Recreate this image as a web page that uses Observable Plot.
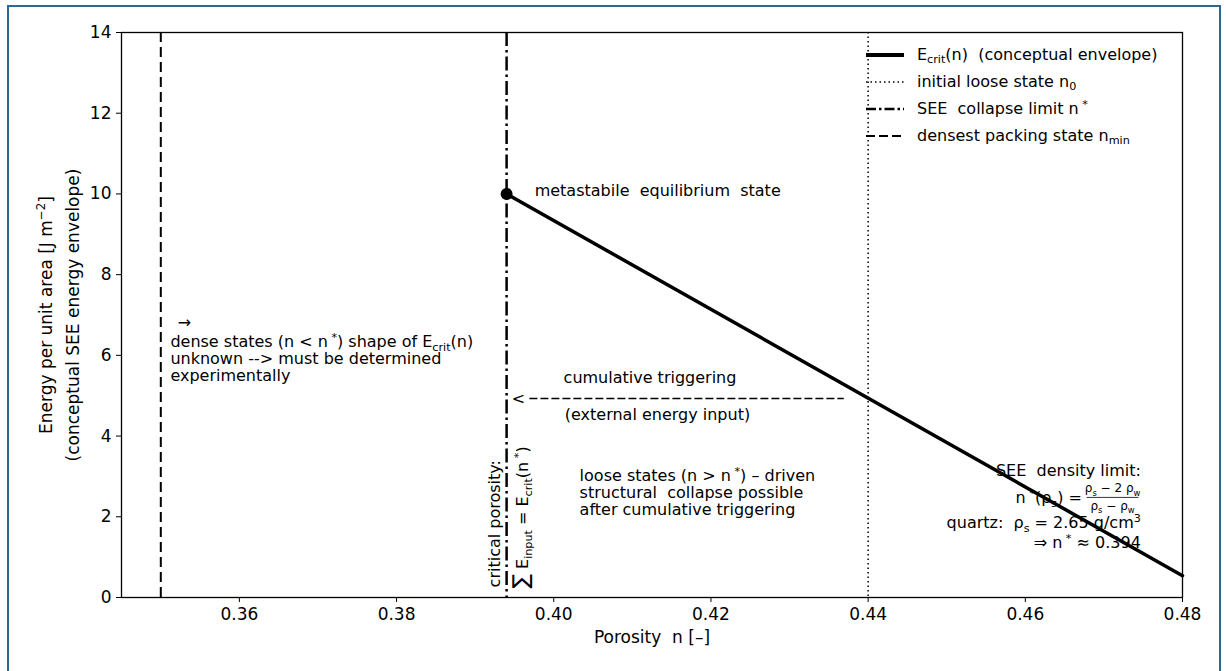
<!DOCTYPE html>
<html><head><meta charset="utf-8">
<script src="https://cdn.jsdelivr.net/npm/d3@7"></script>
<script src="https://cdn.jsdelivr.net/npm/@observablehq/plot@0.6"></script>
<style>
body{margin:0;background:#fff;font-family:"DejaVu Sans",sans-serif;}
#wrap{position:relative;width:1226px;height:671px;overflow:hidden;background:#fff;}
#border{position:absolute;left:7px;top:5px;width:1210px;height:720px;border:2px solid #2b6a8e;pointer-events:none;}
#legend{position:absolute;left:866px;top:41px;font-size:16px;color:#000;}
#legend .row{display:flex;align-items:center;height:27px;}
#legend svg{width:38px;height:10px;margin-right:13px;overflow:visible}
#legend sub{font-size:70%;vertical-align:-0.3em;line-height:0}
#legend sup{font-size:70%;vertical-align:0.5em;line-height:0}
</style></head><body>
<div id="wrap"><div id="chart"></div><div id="legend"></div><div id="border"></div></div>
<script>
// ---- data ----
const xDomain = [0.345, 0.48];
const yDomain = [0, 14];
const xTicks = [0.36, 0.38, 0.40, 0.42, 0.44, 0.46, 0.48];
const yTicks = [0, 2, 4, 6, 8, 10, 12, 14];
const envelopeN = [0.394, 0.48];
const envelopeE = [10, 0.54];
const nInitial = 0.44;
const nCritical = 0.394;
const nMin = 0.35;
const metastableE = 10;
const triggerArrowN = [0.3969, 0.4369];
const triggerArrowE = 4.93;

const legendItems = [
  {label: "E<sub>crit</sub>(n)&nbsp; (conceptual envelope)", dash: null, width: 4},
  {label: "initial loose state n<sub>0</sub>", dash: "1.5,3", width: 1.5},
  {label: "SEE&nbsp; collapse limit n<sup>&nbsp;*</sup>", dash: "10,3,2.5,3", width: 2.5},
  {label: "densest packing state n<sub>min</sub>", dash: "9,4", width: 2}
];

// annotation texts (position in data units)
const annotations = [
  {n: 0.39757, E: 10.08, text: "metastabile  equilibrium  state", anchor: "start"},
  {n: 0.3530, E: 6.81, text: "→", anchor: "middle"},
  {n: 0.35122, E: 5.92, text: "dense states (n < n^{ *}) shape of E_{crit}(n)\nunknown --> must be determined\nexperimentally", anchor: "start"},
  {n: 0.40125, E: 5.45, text: "cumulative triggering", anchor: "start"},
  {n: 0.3955, E: 4.93, text: "<", anchor: "middle"},
  {n: 0.4014, E: 4.53, text: "(external energy input)", anchor: "start"},
  {n: 0.40329, E: 2.60, text: "loose states (n > n^{ *}) – driven\nstructural  collapse possible\nafter cumulative triggering", anchor: "start"},
  {n: 0.4747, E: 3.15, text: "SEE  density limit:", anchor: "end"},
  {n: 0.4672, E: 2.48, text: "n^{ *}(ρ_{s}) =", anchor: "end"},
  {n: 0.4747, E: 1.86, text: "quartz:  ρ_{s} = 2.65 g/cm^{3}", anchor: "end"},
  {n: 0.4747, E: 1.36, text: "⇒ n^{ *} ≈ 0.394", anchor: "end"}
];
const fraction = [
  {n: 0.4711, E: 2.70, text: "ρ_{s} − 2 ρ_{w}"},
  {n: 0.4711, E: 2.27, text: "ρ_{s} − ρ_{w}"}
];
const fractionBar = {n1: 0.4678, n2: 0.4744, E: 2.48};
const rotated = [
  {n: 0.39249, E: 0.25, text: "critical porosity:"},
  {n: 0.39605, E: 0.22, text: "+{∑} E_{input} = E_{crit}(n^{ *})"}
];
const yLabel = "Energy per unit area [J m^{−2}]\n(conceptual SEE energy envelope)";
const xLabel = "Porosity  n [–]";

// ---- chart ----
const envelope = envelopeN.map((n, i) => ({n, E: envelopeE[i]}));
const fs = 16;
const plot = Plot.plot({
  width: 1226, height: 671,
  marginLeft: 121, marginRight: 44, marginTop: 32, marginBottom: 74,
  x: {domain: xDomain},
  y: {domain: yDomain},
  style: {fontFamily: "DejaVu Sans", fontSize: "17px", color: "#000", background: "transparent"},
  marks: [
    Plot.ruleX([nMin], {stroke: "black", strokeWidth: 2, strokeDasharray: "10,5"}),
    Plot.ruleX([nInitial], {stroke: "black", strokeWidth: 1.5, strokeDasharray: "1.5,3"}),
    Plot.ruleX([nCritical], {stroke: "black", strokeWidth: 2.5, strokeDasharray: "14,4,2.5,4"}),
    Plot.line(envelope, {x: "n", y: "E", stroke: "black", strokeWidth: 3.5}),
    Plot.dot([{n: nCritical, E: metastableE}], {x: "n", y: "E", r: 6, fill: "black", stroke: "none"}),
    Plot.link([{}], {x1: () => triggerArrowN[0], x2: () => triggerArrowN[1], y1: () => triggerArrowE, y2: () => triggerArrowE, stroke: "black", strokeWidth: 1.4, strokeDasharray: "8,3"}),
    Plot.link([fractionBar], {x1: "n1", x2: "n2", y1: "E", y2: "E", stroke: "black", strokeWidth: 0.8}),
    Plot.axisX({ticks: xTicks, tickFormat: d3.format(".2f"), tickSize: 5, tickPadding: 5, label: null, fontSize: 17}),
    Plot.axisY({ticks: yTicks, tickSize: 5, tickPadding: 5, label: null, fontSize: 17}),
    Plot.frame({stroke: "black", strokeWidth: 1.3}),
    ...annotations.map(a => Plot.text([a], {x: "n", y: "E", text: "text", textAnchor: a.anchor, lineAnchor: "middle", lineHeight: 1.07, fontSize: fs, fill: "black"})),
    Plot.text(fraction, {x: "n", y: "E", text: "text", fontSize: 12, fill: "black"}),
    Plot.text(rotated, {x: "n", y: "E", text: "text", rotate: -90, textAnchor: "start", lineAnchor: "middle", fontSize: fs, fill: "black"}),
    Plot.text([yLabel], {text: d => d, frameAnchor: "left", rotate: -90, dx: -65, textAnchor: "middle", lineAnchor: "middle", lineHeight: 1.6, fontSize: 17, fill: "black"}),
    Plot.text([xLabel], {text: d => d, frameAnchor: "bottom", dy: 40, textAnchor: "middle", lineAnchor: "middle", fontSize: 17, fill: "black"})
  ]
});
document.getElementById("chart").appendChild(plot);

// rich text: _{sub}, ^{sup}, +{bigger}
const NS = "http://www.w3.org/2000/svg";
function enrich(el) {
  const s = el.textContent;
  if (!/[_^+]\{/.test(s)) return;
  const size = parseFloat(getComputedStyle(el).fontSize) || 16;
  el.textContent = "";
  let off = 0;
  const add = (txt, target, scale) => {
    const t = document.createElementNS(NS, "tspan");
    t.textContent = txt;
    const dy = target - off;
    if (dy !== 0) t.setAttribute("dy", dy);
    if (scale) t.setAttribute("font-size", size * scale);
    off = target;
    el.appendChild(t);
  };
  const re = /([_^+])\{([^}]*)\}/g;
  let last = 0, m;
  while ((m = re.exec(s))) {
    if (m.index > last) add(s.slice(last, m.index), 0, null);
    if (m[1] === "+") add(m[2], 0, 1.35);
    else add(m[2], m[1] === "_" ? size * 0.28 : -size * 0.38, 0.7);
    last = re.lastIndex;
  }
  if (last < s.length) add(s.slice(last), 0, null);
  if (off !== 0 && el.nextSibling) add("\u200b", 0, null);
}
plot.querySelectorAll("text").forEach(t => {
  const spans = t.querySelectorAll(":scope > tspan");
  if (spans.length) spans.forEach(enrich); else enrich(t);
});

// legend
const leg = d3.select("#legend");
legendItems.forEach(it => {
  const row = leg.append("div").attr("class", "row");
  const svg = row.append("svg").attr("viewBox", "0 0 38 10");
  svg.append("line").attr("x1", 0).attr("x2", 38).attr("y1", 5).attr("y2", 5)
    .attr("stroke", "black").attr("stroke-width", it.width)
    .attr("stroke-dasharray", it.dash);
  row.append("span").html(it.label);
});
</script>
</body></html>
